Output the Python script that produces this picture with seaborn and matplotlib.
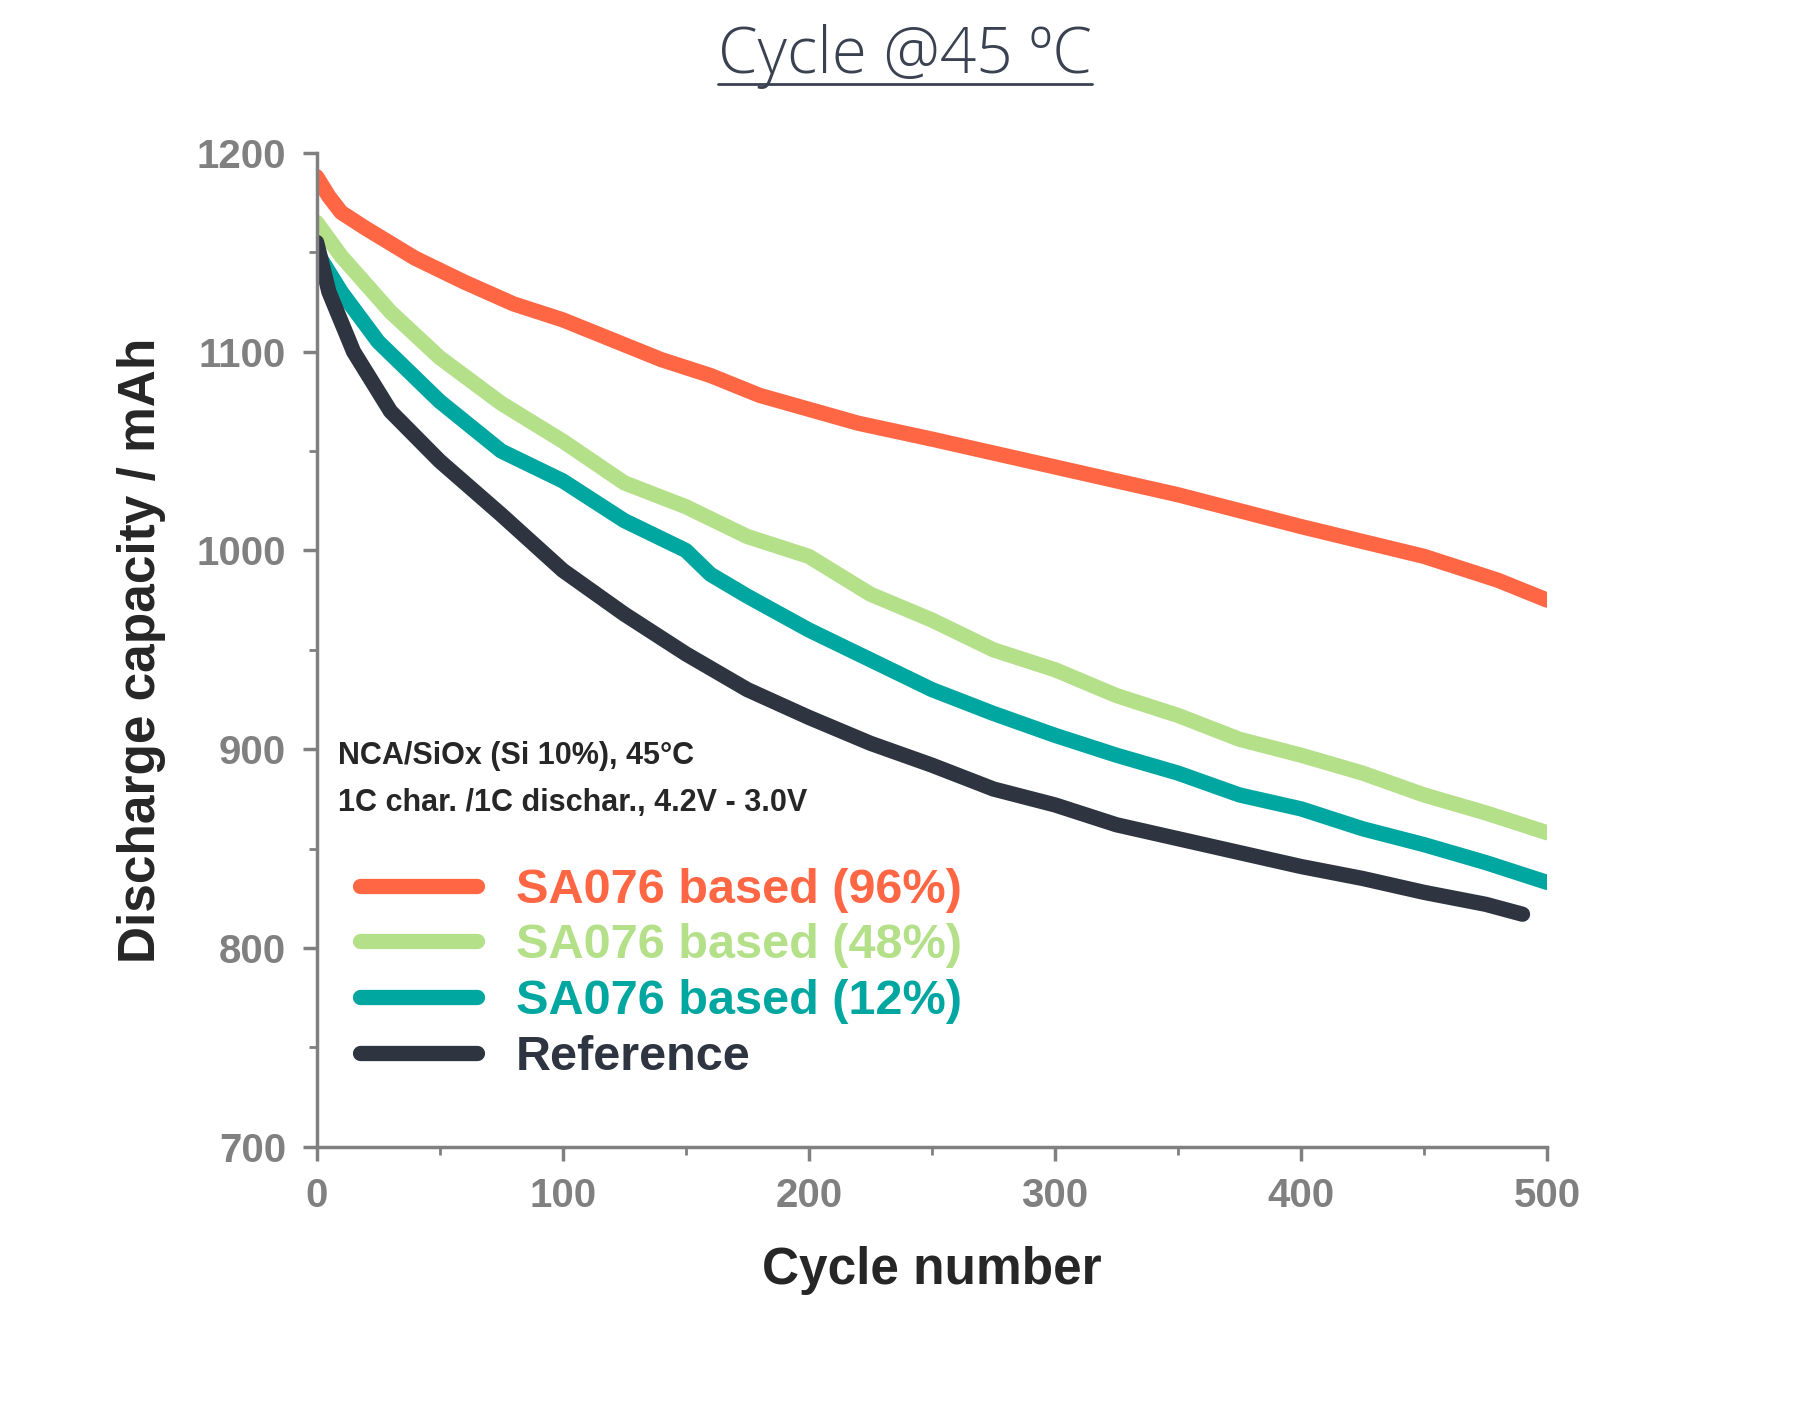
import matplotlib
matplotlib.use("Agg")
import matplotlib.pyplot as plt
import seaborn as sns
import pandas as pd
from matplotlib.lines import Line2D
from matplotlib.ticker import MultipleLocator

x_orange = [0,5,10,20,40,60,80,100,120,140,160,180,200,220,250,300,350,400,450,480,500]
y_orange = [1188,1178,1170,1162,1147,1135,1124,1116,1106,1096,1088,1078,1071,1064,1056,1042,1028,1012,997,985,975]
x_grid = [0,10,30,50,75,100,125,150,175,200,225,250,275,300,325,350,375,400,425,450,475,500]
y_green = [1165,1148,1120,1097,1074,1055,1034,1022,1007,997,978,965,950,940,927,917,905,897,888,877,868,858]
x_teal = [0,10,25,50,75,100,125,150,160,175,200,225,250,275,300,325,350,375,400,425,450,475,500]
y_teal = [1150,1130,1105,1075,1050,1035,1015,1000,988,977,960,945,930,918,907,897,888,877,870,860,852,843,833]
x_dark = [0,5,15,30,50,75,100,125,150,175,200,225,250,275,300,325,350,375,400,425,450,475,490]
y_dark = [1155,1130,1100,1070,1045,1018,990,968,948,930,916,903,892,880,872,862,855,848,841,835,828,822,817]

names = ["SA076 based (96%)", "SA076 based (48%)", "SA076 based (12%)", "Reference"]
colors = ["#FF6644", "#B5E08A", "#00A6A0", "#2E3540"]

frames = []
for n, xs, ys in zip(names, [x_orange, x_grid, x_teal, x_dark], [y_orange, y_green, y_teal, y_dark]):
    frames.append(pd.DataFrame({"cycle": xs, "cap": ys, "series": n}))
df = pd.concat(frames)

sns.set_style("white")
plt.rcParams["font.family"] = ["Liberation Sans", "DejaVu Sans"]
fig = plt.figure(figsize=(17.99, 14.02), dpi=100)
ax = fig.add_axes([0.176, 0.182, 0.684, 0.709])
sns.lineplot(data=df, x="cycle", y="cap", hue="series", palette=colors, hue_order=names,
             linewidth=11, ax=ax, legend=False, solid_capstyle="round", solid_joinstyle="round")
ax.set_xlim(0, 500)
ax.set_ylim(700, 1200)
ax.xaxis.set_major_locator(MultipleLocator(100))
ax.xaxis.set_minor_locator(MultipleLocator(50))
ax.yaxis.set_major_locator(MultipleLocator(100))
ax.yaxis.set_minor_locator(MultipleLocator(50))
for s in ["top", "right"]:
    ax.spines[s].set_visible(False)
for s in ["left", "bottom"]:
    ax.spines[s].set_color("#808080")
    ax.spines[s].set_linewidth(2.5)
ax.tick_params(which="major", direction="out", length=10, width=2.5, color="#808080",
               labelsize=29, labelcolor="#808080", pad=12)
ax.tick_params(which="minor", direction="out", length=6, width=2, color="#808080")
ax.tick_params(axis="x", which="both", bottom=True)
ax.tick_params(axis="y", which="both", left=True)
for lab in ax.get_xticklabels() + ax.get_yticklabels():
    lab.set_fontweight("bold")
ax.set_xlabel("Cycle number", fontsize=37, fontweight="bold", labelpad=22)
ax.set_ylabel("Discharge capacity / mAh", fontsize=37, fontweight="bold", labelpad=22)

ax.text(0.017, 0.385, "NCA/SiOx (Si 10%), 45\u00b0C", transform=ax.transAxes, fontsize=22, fontweight="bold")
ax.text(0.017, 0.338, "1C char. /1C dischar., 4.2V - 3.0V", transform=ax.transAxes, fontsize=22, fontweight="bold")
handles = [Line2D([0], [0], color=c, lw=11, solid_capstyle="round") for c in colors]
leg = ax.legend(handles, names, loc="upper left", bbox_to_anchor=(0.0, 0.325), frameon=False,
                handlelength=2.4, labelspacing=0.22, handletextpad=0.8,
                prop={"size": 35, "weight": "bold", "family": "Liberation Sans"})
for t, c in zip(leg.get_texts(), colors):
    t.set_color(c)

t = fig.text(0.503, 0.948, "Cycle @45 \u00baC", ha="center", va="baseline", fontsize=46,
             color="#3A4150", family="Open Sans", fontweight="light")
fig.canvas.draw()
bb = t.get_window_extent().transformed(fig.transFigure.inverted())
fig.add_artist(Line2D([bb.x0, bb.x1], [0.94, 0.94], color="#3A4150", lw=2, transform=fig.transFigure))

fig.savefig("out.png", dpi=100)
